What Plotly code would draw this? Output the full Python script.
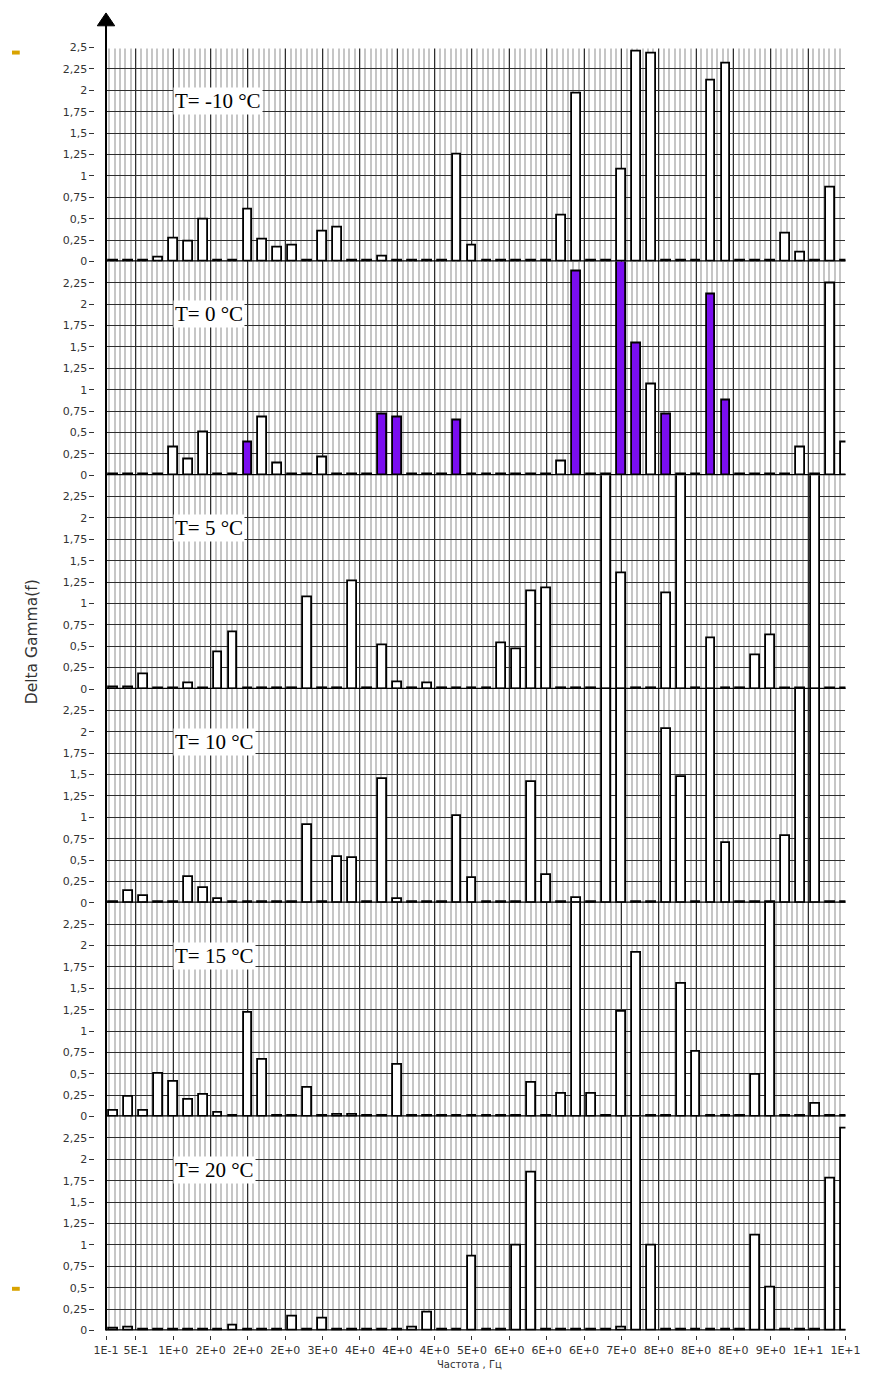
import numpy as np
import plotly.graph_objects as go

W, H = 875, 1380

# ---------------- data ----------------
freqs = [0.2, 0.4, 0.6, 0.8, 1.0, 1.2, 1.4, 1.6, 1.8, 2.0,
         2.2, 2.4, 2.6, 2.8, 3.0, 3.2, 3.4, 3.6, 3.8, 4.0,
         4.2, 4.4, 4.6, 4.8, 5.0, 5.2, 5.4, 5.6, 5.8, 6.0,
         6.2, 6.4, 6.6, 6.8, 7.0, 7.2, 7.4, 7.6, 7.8, 8.0,
         8.2, 8.4, 8.6, 8.8, 9.0, 9.2, 9.4, 9.6, 9.8, 10.0]

panel_labels = ["T= -10 °C", "T= 0 °C", "T= 5 °C", "T= 10 °C", "T= 15 °C", "T= 20 °C"]

vals_m10 = [0.01, 0.01, 0.01, 0.05, 0.27, 0.23, 0.49, 0.01, 0.01, 0.60,
            0.25, 0.16, 0.18, 0.01, 0.35, 0.40, 0.01, 0.01, 0.06, 0.01,
            0.01, 0.01, 0.01, 1.25, 0.18, 0.01, 0.01, 0.01, 0.01, 0.01,
            0.54, 1.96, 0.01, 0.01, 1.07, 2.45, 2.43, 0.01, 0.01, 0.01,
            2.12, 2.31, 0.01, 0.01, 0.01, 0.33, 0.10, 0.01, 0.86, 0.01]

vals_0 = [0.01, 0.01, 0.01, 0.01, 0.32, 0.18, 0.50, 0.01, 0.01, 0.38,
          0.68, 0.14, 0.01, 0.01, 0.21, 0.01, 0.01, 0.01, 0.71, 0.68,
          0.01, 0.01, 0.01, 0.64, 0.01, 0.01, 0.01, 0.01, 0.01, 0.01,
          0.16, 2.38, 0.01, 0.01, 2.60, 1.54, 1.06, 0.71, 0.01, 0.01,
          2.11, 0.87, 0.01, 0.01, 0.01, 0.01, 0.32, 0.01, 2.24, 0.38]

vals_5 = [0.02, 0.02, 0.17, 0.01, 0.01, 0.07, 0.01, 0.43, 0.67, 0.01,
          0.01, 0.01, 0.01, 1.07, 0.01, 0.01, 1.26, 0.01, 0.51, 0.08,
          0.01, 0.07, 0.01, 0.01, 0.01, 0.01, 0.53, 0.46, 1.14, 1.18,
          0.01, 0.01, 0.01, 2.60, 1.35, 0.01, 0.01, 1.12, 2.60, 0.01,
          0.59, 0.01, 0.01, 0.39, 0.63, 0.01, 0.01, 2.60, 0.01, 0.01]

vals_10 = [0.01, 0.14, 0.08, 0.01, 0.01, 0.30, 0.17, 0.04, 0.01, 0.01,
           0.01, 0.01, 0.01, 0.91, 0.01, 0.53, 0.52, 0.01, 1.45, 0.04,
           0.01, 0.01, 0.01, 1.02, 0.29, 0.01, 0.01, 0.01, 1.41, 0.33,
           0.01, 0.06, 0.01, 2.60, 2.60, 0.01, 0.01, 2.03, 1.47, 0.01,
           2.60, 0.70, 0.01, 0.01, 0.01, 0.78, 2.60, 2.60, 0.01, 0.01]

vals_15 = [0.07, 0.23, 0.07, 0.50, 0.41, 0.20, 0.26, 0.04, 0.01, 1.21,
           0.67, 0.01, 0.01, 0.34, 0.01, 0.02, 0.02, 0.01, 0.01, 0.61,
           0.01, 0.01, 0.01, 0.01, 0.01, 0.01, 0.01, 0.01, 0.39, 0.01,
           0.27, 2.60, 0.27, 0.01, 1.22, 1.92, 0.01, 0.01, 1.55, 0.76,
           0.01, 0.01, 0.01, 0.49, 2.60, 0.01, 0.01, 0.15, 0.01, 0.01]

vals_20 = [0.02, 0.03, 0.01, 0.01, 0.01, 0.01, 0.01, 0.01, 0.06, 0.01,
           0.01, 0.01, 0.16, 0.01, 0.14, 0.01, 0.01, 0.01, 0.01, 0.01,
           0.03, 0.21, 0.01, 0.01, 0.86, 0.01, 0.01, 0.99, 1.84, 0.01,
           0.01, 0.01, 0.01, 0.01, 0.03, 2.60, 0.99, 0.01, 0.01, 0.01,
           0.01, 0.01, 0.01, 1.11, 0.50, 0.01, 0.01, 0.01, 1.78, 2.36]

# frequencies highlighted (violet) in the T = 0 °C panel
highlight_0 = [2.0, 3.8, 4.0, 4.8, 6.4, 7.0, 7.2, 7.6, 8.2, 8.4]

xtick_vals = [0.1, 0.5, 1.0, 1.5, 2.0, 2.5, 3.0, 3.5, 4.0, 4.5, 5.0,
              5.5, 6.0, 6.5, 7.0, 7.5, 8.0, 8.5, 9.0, 9.5, 10.0]
xtick_text = ["1E-1", "5E-1", "1E+0", "2E+0", "2E+0", "2E+0", "3E+0", "4E+0",
              "4E+0", "4E+0", "5E+0", "6E+0", "6E+0", "6E+0", "7E+0", "8E+0",
              "8E+0", "8E+0", "9E+0", "1E+1", "1E+1"]
ytick_vals = [0, 0.25, 0.5, 0.75, 1.0, 1.25, 1.5, 1.75, 2.0, 2.25]
ytick_text = ["0", "0,25", "0,5", "0,75", "1", "1,25", "1,5", "1,75", "2", "2,25"]

panels = [vals_m10, vals_0, vals_5, vals_10, vals_15, vals_20]

# ---------------- layout helpers ----------------
def px(p):
    return p / W

def py(p):
    return 1 - p / H

X0, X1 = 97, 860
TOP, BOT = 42, 1337
PH = (BOT - TOP) / 6

DARK = "#2e2e2e"
LIGHT = "#c6c6c6"
VIOLET = "#7a0ef0"
TICKFONT = dict(family="DejaVu Sans", size=11, color="#333333")

minor_vals = list(np.arange(0.5 - 0.5 / 7 * 5, 10.0001, 0.5 / 7))

fig = go.Figure()
layout = dict(
    width=W, height=H,
    margin=dict(l=0, r=0, t=0, b=0),
    paper_bgcolor="white", plot_bgcolor="white",
    showlegend=False, bargap=0,
)
annotations = []
shapes = []

for k, vals in enumerate(panels):
    n = k + 1
    xs = "" if n == 1 else str(n)
    if k == 1:
        colors = [VIOLET if f in highlight_0 else "white" for f in freqs]
    else:
        colors = ["white"] * len(freqs)
    fig.add_trace(go.Bar(
        x=freqs, y=vals, width=0.118,
        marker=dict(color=colors, line=dict(color="black", width=1.8)),
        xaxis="x" + xs, yaxis="y" + xs, hoverinfo="skip",
    ))
    top = TOP + k * PH
    bot = top + PH
    last = (k == 5)
    xa = dict(
        domain=[px(X0), px(X1)], range=[0.1, 10.0],
        tickmode="array", tickvals=xtick_vals, ticktext=xtick_text,
        showgrid=True, gridcolor=DARK, gridwidth=1,
        minor=dict(tickmode="array", tickvals=minor_vals, showgrid=True,
                   gridcolor=LIGHT, gridwidth=1.6, ticks=""),
        zeroline=False, showline=False,
        showticklabels=last, ticks="outside" if last else "",
        ticklen=4, tickwidth=1, tickcolor="#333333", tickfont=TICKFONT,
        ticklabeloverflow="allow", fixedrange=True,
    )
    if last:
        xa.update(anchor="free", position=py(1342))
    else:
        xa.update(anchor="y" + xs)
    yv = ytick_vals + ([2.5] if k == 0 else [])
    yt = ytick_text + (["2,5"] if k == 0 else [])
    ya = dict(
        domain=[py(bot), py(top)], range=[0, 2.5],
        tickmode="array", tickvals=yv, ticktext=yt,
        showgrid=True, gridcolor=DARK, gridwidth=1,
        zeroline=False, showline=False,
        ticks="outside", ticklen=5, tickwidth=1, tickcolor="#333333",
        tickfont=TICKFONT, anchor="free", position=px(85), fixedrange=True,
    )
    layout["xaxis" + xs] = xa
    layout["yaxis" + xs] = ya

    # thick baseline at zero
    shapes.append(dict(type="line", xref="paper", yref="y" + xs,
                       x0=px(X0), x1=px(X1), y0=0, y1=0,
                       line=dict(color="black", width=2.5), layer="above"))
    # temperature label
    annotations.append(dict(
        text=panel_labels[k], xref="x" + xs, yref="y" + xs,
        x=1.0, y=1.88, xanchor="left", yanchor="middle", showarrow=False,
        font=dict(family="Liberation Serif", size=21, color="black"),
        bgcolor="white", borderpad=1,
    ))

# no horizontal grid line on the very top edge
shapes.append(dict(type="line", xref="paper", yref="y",
                   x0=px(X0 + 1), x1=px(X1), y0=2.5, y1=2.5,
                   line=dict(color="white", width=2), layer="above"))
# vertical axis with arrow
shapes.append(dict(type="line", xref="paper", yref="paper",
                   x0=px(97), x1=px(97), y0=py(18), y1=py(BOT),
                   line=dict(color="black", width=2), layer="above"))
shapes.append(dict(type="path", xref="paper", yref="paper",
                   path=f"M {px(97)},{py(7)} L {px(88)},{py(20)} L {px(106)},{py(20)} Z",
                   fillcolor="black", line=dict(color="black", width=1), layer="above"))
# small orange marks at the left edge
for yy in (45, 1293):
    shapes.append(dict(type="rect", xref="paper", yref="paper",
                       x0=0, x1=px(8), y0=py(yy + 4), y1=py(yy),
                       fillcolor="#d9a300", line=dict(width=0)))

annotations.append(dict(
    text="Delta Gamma(f)", xref="paper", yref="paper",
    x=px(21), y=py(642), textangle=-90, showarrow=False,
    xanchor="center", yanchor="middle",
    font=dict(family="DejaVu Sans", size=15.5, color="#333333"),
))
annotations.append(dict(
    text="Частота , Гц", xref="paper", yref="paper",
    x=px(472), y=py(1371), showarrow=False,
    xanchor="center", yanchor="middle",
    font=dict(family="DejaVu Sans", size=10, color="#333333"),
))

layout["shapes"] = shapes
layout["annotations"] = annotations
fig.update_layout(**layout)
fig.write_html(
    "out.html",
    post_script="document.documentElement.style.margin='0';document.body.style.margin='0';document.body.style.overflow='hidden';",
)
